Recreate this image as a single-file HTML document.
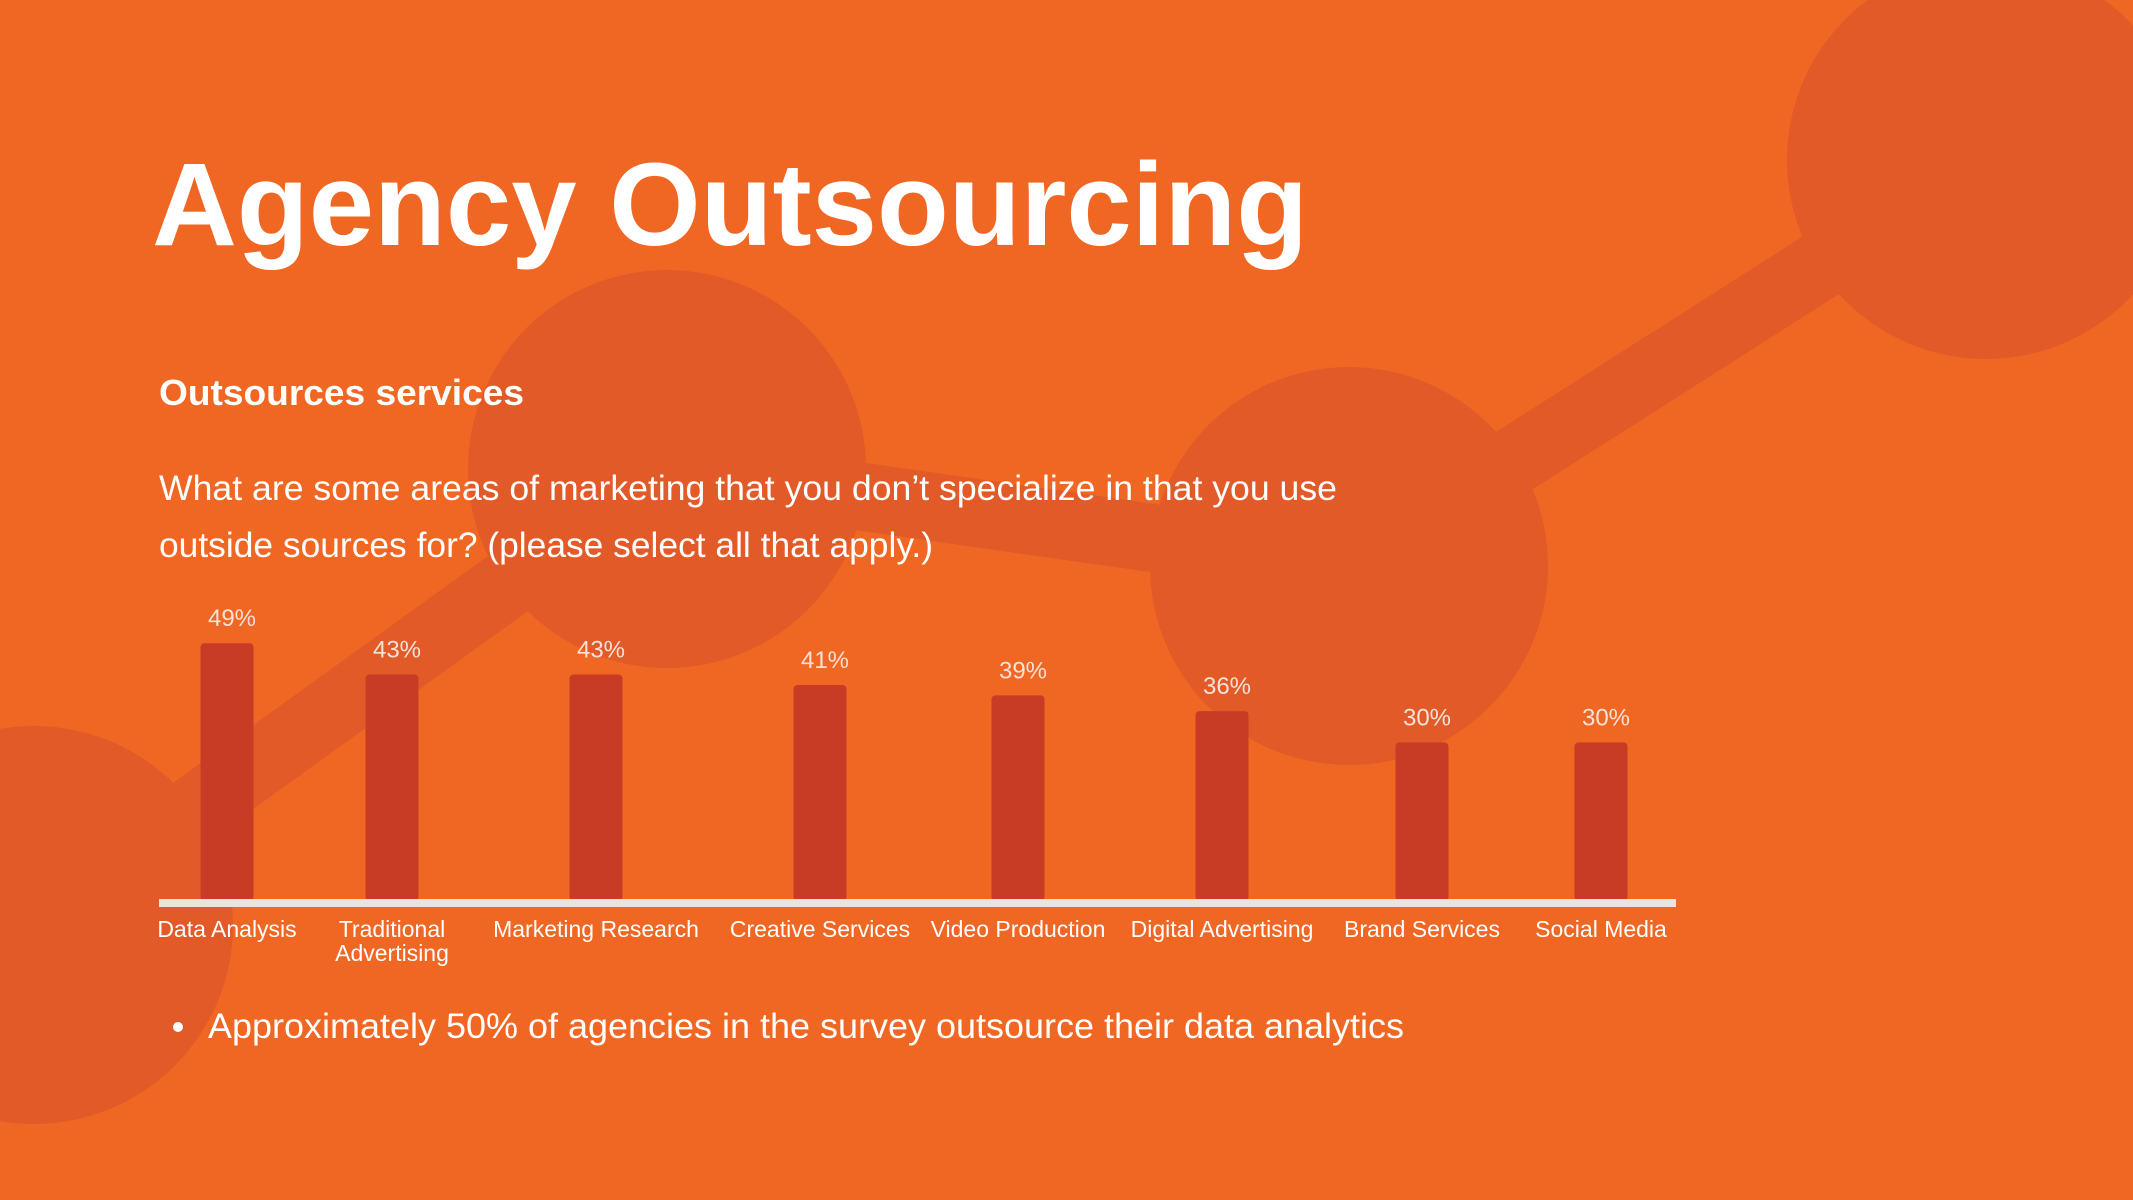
<!DOCTYPE html>
<html><head><meta charset="utf-8"><style>
html,body{margin:0;padding:0;background:#F06623;}
svg{display:block;font-family:"Liberation Sans",sans-serif;}
</style></head><body>
<svg width="2133" height="1200" viewBox="0 0 2133 1200">
<rect width="2133" height="1200" fill="#F06623"/>
<g fill="#E15A28" stroke="#E15A28">
<polyline points="34,925 667,469 1349,566 1986,160" fill="none" stroke-width="68"/>
<circle cx="34" cy="925" r="199" stroke="none"/>
<circle cx="667" cy="469" r="199" stroke="none"/>
<circle cx="1349" cy="566" r="199" stroke="none"/>
<circle cx="1986" cy="160" r="199" stroke="none"/>
</g>
<text x="152" y="245" font-size="118" font-weight="bold" fill="#fff" textLength="1156" lengthAdjust="spacingAndGlyphs">Agency Outsourcing</text>
<text x="159" y="405" font-size="36" font-weight="bold" fill="#fff" textLength="365" lengthAdjust="spacingAndGlyphs">Outsources services</text>
<text x="159" y="500" font-size="35" fill="#fff" textLength="1178" lengthAdjust="spacingAndGlyphs">What are some areas of marketing that you don’t specialize in that you use</text>
<text x="159" y="557" font-size="35" fill="#fff" textLength="774" lengthAdjust="spacingAndGlyphs">outside sources for? (please select all that apply.)</text>
<g id="chart"></g>
<circle cx="178" cy="1027" r="5" fill="#fff"/>
<text x="208" y="1038" font-size="35" fill="#fff" textLength="1196" lengthAdjust="spacingAndGlyphs">Approximately 50% of agencies in the survey outsource their data analytics</text>
</svg>
<script>
const categories = ["Data Analysis","Traditional Advertising","Marketing Research","Creative Services","Video Production","Digital Advertising","Brand Services","Social Media"];
const values = [49,43,43,41,39,36,30,30];
const valueLabels = ["49%","43%","43%","41%","39%","36%","30%","30%"];
const centers = [227,392,596,820,1018,1222,1422,1601];
const NS="http://www.w3.org/2000/svg";
const g=document.getElementById('chart');
const base=899, perPct=5.22, bw=53;
function y(v){return base - v*perPct;}
function mk(tag,attrs){const e=document.createElementNS(NS,tag);for(const k in attrs)e.setAttribute(k,attrs[k]);g.appendChild(e);return e;}
values.forEach((v,i)=>{
  const cx=centers[i];
  const r=mk('rect',{x:cx-bw/2,y:y(v),width:bw,height:base-y(v)+2,rx:4,fill:'#C83C26'});
  
  
  const t=mk('text',{x:cx+5,y:y(v)-17,'font-size':24,fill:'#F8E2D8','text-anchor':'middle'});
  t.textContent=valueLabels[i];
  
  
  const words=categories[i]==="Traditional Advertising"?["Traditional","Advertising"]:[categories[i]];
  words.forEach((w,j)=>{
    const c=mk('text',{x:cx,y:937+j*24,'font-size':23,fill:'#fff','text-anchor':'middle'});
    c.textContent=w;
    
    
  });
});
const ax=mk('rect',{x:159,y:899,width:1517,height:8,fill:'#EDE3DE'});


</script>
</body></html>
